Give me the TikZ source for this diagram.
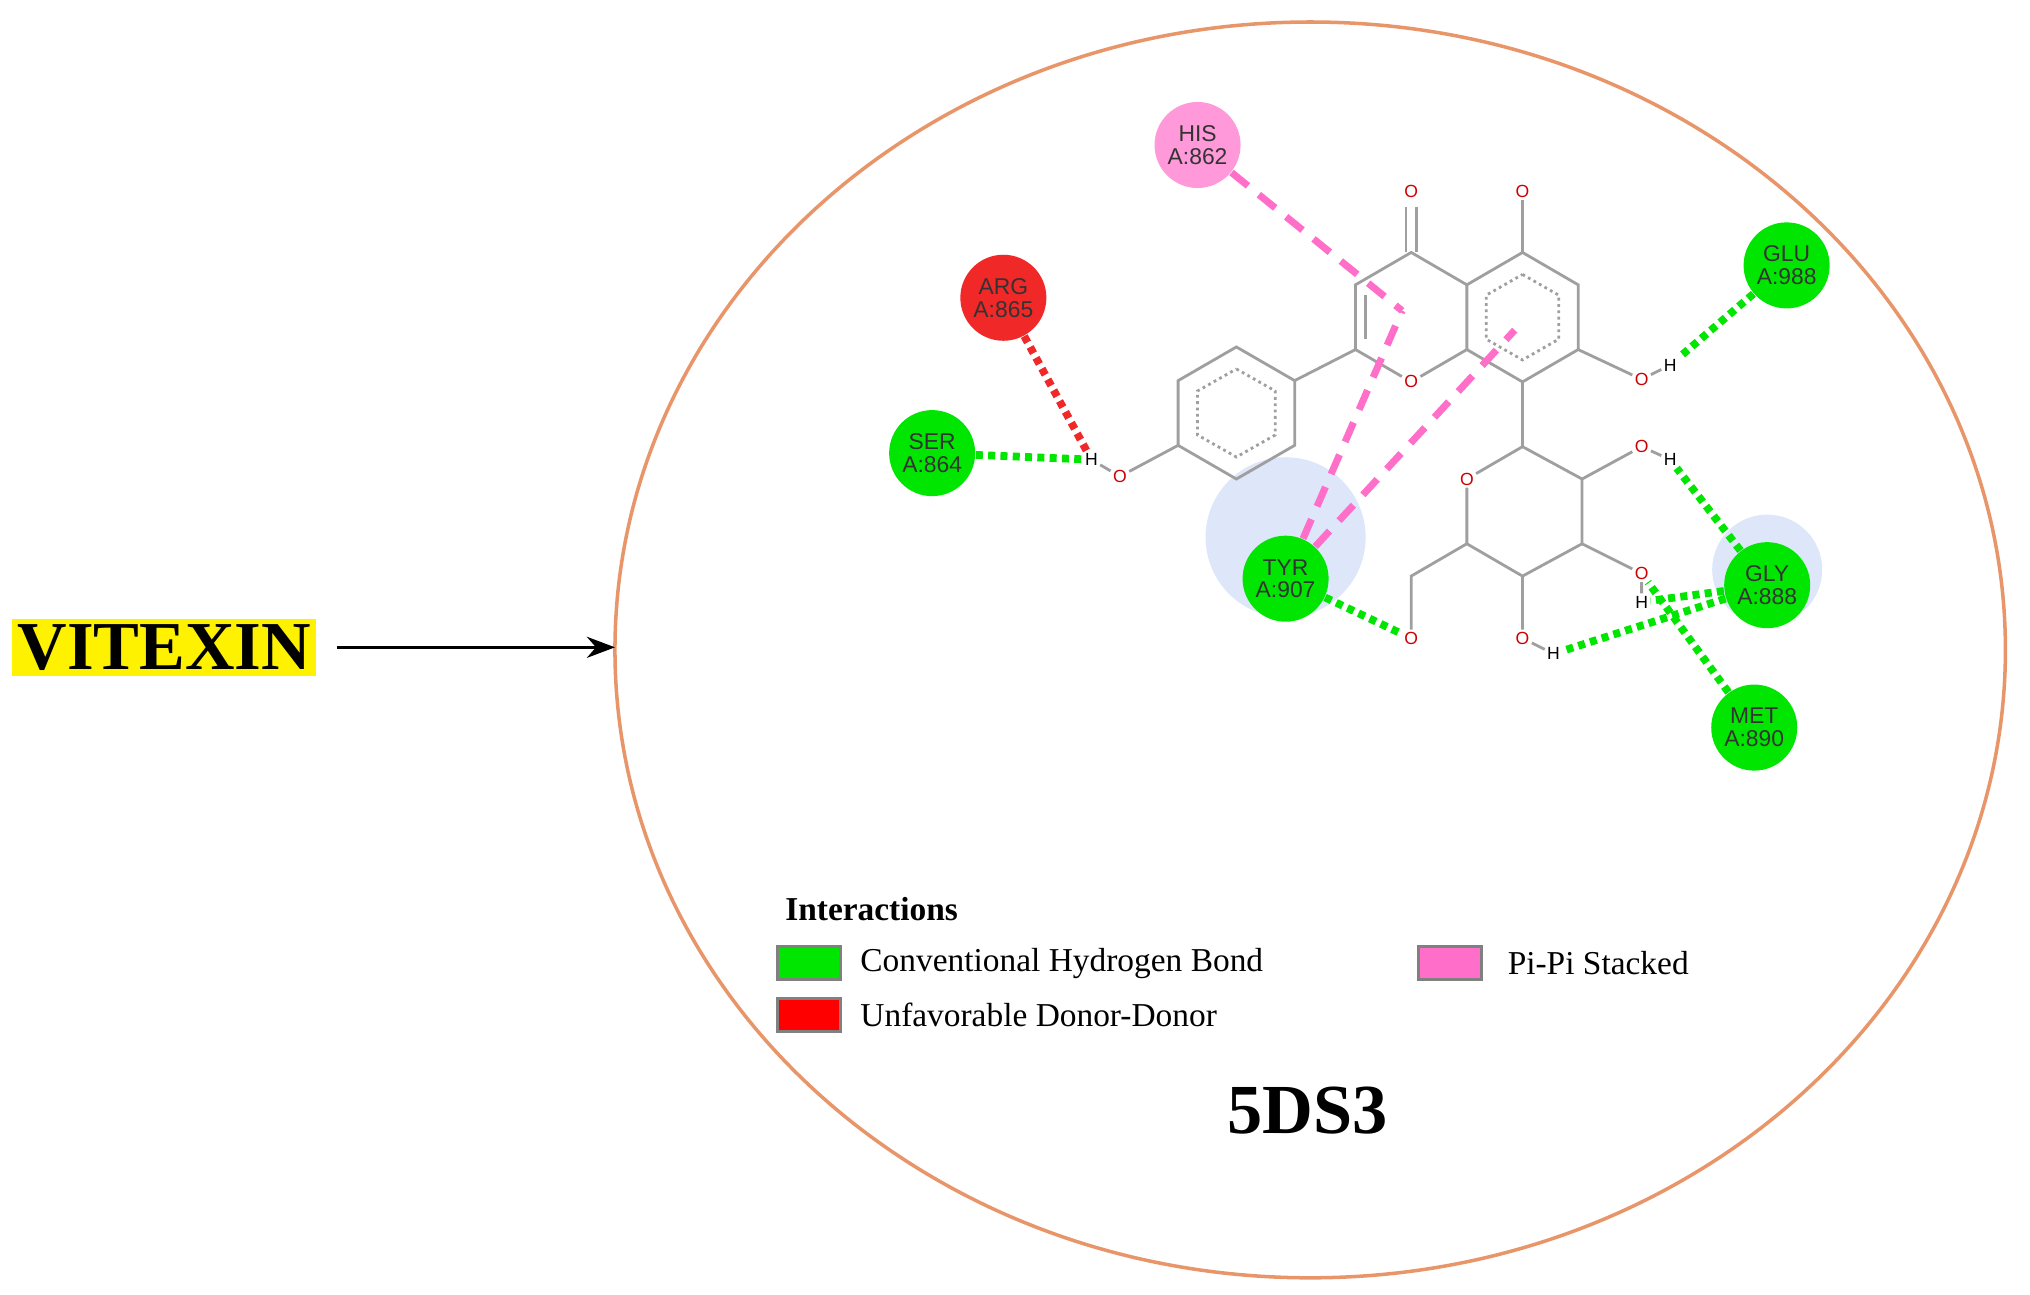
\documentclass[tikz,border=0pt]{standalone}
\usepackage{fontspec}
\setmainfont{Liberation Serif}
\newfontfamily\ressf{Liberation Sans}
\usetikzlibrary{arrows.meta}
\definecolor{hbond}{RGB}{0,230,0}
\definecolor{dd}{RGB}{240,40,40}
\definecolor{pipi}{RGB}{255,110,200}
\definecolor{rim}{RGB}{232,150,105}
\definecolor{halofill}{RGB}{222,230,250}
\begin{document}
\begin{tikzpicture}%
	[x=0.012946cm, y=-0.012946cm,
	bond/.style={draw=gray!75, line width=0.8pt},
	atom/.style={inner sep=0.5pt, text=red!80!black, font=\ressf\fontsize{5}{5}\selectfont},
	hatom/.style={inner sep=0.5pt, text=black, font=\ressf\fontsize{5}{5}\selectfont},
	res/.style={circle, minimum size=0.86cm, inner sep=0pt, align=center, font=\ressf\fontsize{6.5}{6.5}\selectfont, text=black!80},
	halo/.style={circle, fill=halofill, minimum size=1.6cm},
	hb/.style={draw=hbond, line width=2.2pt, dash pattern=on 2pt off 1.5pt},
	ddb/.style={draw=dd, line width=2.2pt, dash pattern=on 2pt off 1.5pt},
	pp/.style={draw=pipi, line width=2pt, dash pattern=on 6pt off 4pt},
	key/.style={draw=gray, line width=1pt, minimum width=0.63cm, minimum height=0.33cm, inner sep=0pt},
	legtext/.style={anchor=west, font=\fontsize{9.5}{9.5}\selectfont}]
\useasboundingbox (0,0) rectangle (1568,1000);
%
%% Frame
%%
\node[fill=yellow, inner sep=1.5pt, font=\bfseries\fontsize{19.5}{19.5}\selectfont] (vitexin) at (127,500) {VITEXIN};
\draw[rim, line width=1pt] (1012,502) ellipse [x radius=537, y radius=485];
\coordinate (rimL) at (475,500);
\draw[-{Stealth[length=8pt]}, line width=0.8pt] (260,500) -- (rimL);
%%
%% Halos
%%
\node[halo] at (993,415) {};
\node[halo, minimum size=1.1cm] at (1365,440) {};
%%
%% Atoms
%%
\coordinate (p1) at (955,268); \coordinate (p2) at (1000,294); \coordinate (p3) at (1000,344);
\coordinate (p4) at (955,370); \coordinate (p5) at (910,344); \coordinate (p6) at (910,294);
\coordinate (c1) at (1090,195); \coordinate (c2) at (1133,220); \coordinate (c3) at (1133,270);
\coordinate (c5) at (1047,270); \coordinate (c6) at (1047,220);
\coordinate (a1) at (1176,195); \coordinate (a2) at (1219,220); \coordinate (a3) at (1219,270);
\coordinate (a4) at (1176,295);
\coordinate (s1) at (1176,345); \coordinate (s2) at (1222,370); \coordinate (s3) at (1222,420);
\coordinate (s4) at (1176,445); \coordinate (s5) at (1133,420); \coordinate (s7) at (1090,445);
\node[atom] (o1) at (865,368) {O};
\node[hatom] (h1) at (843,355) {H};
\node[atom] (o2) at (1090,295) {O};
\node[atom] (o3) at (1090,148) {O};
\node[atom] (o4) at (1176,148) {O};
\node[atom] (o5) at (1268,293) {O};
\node[hatom] (h5) at (1290,282) {H};
\node[atom] (o6) at (1133,370) {O};
\node[atom] (o7) at (1090,493) {O};
\node[atom] (o8) at (1268,345) {O};
\node[hatom] (h8) at (1290,355) {H};
\node[atom] (o9) at (1268,443) {O};
\node[hatom] (h9) at (1268,465) {H};
\node[atom] (o10) at (1176,493) {O};
\node[hatom] (h10) at (1200,505) {H};
%%
%% Bonds
%%
\draw[bond] (p1) -- (p2) -- (p3) -- (p4) -- (p5) -- (p6) -- cycle;
\draw[bond, densely dotted] (955,285) -- (985,302) -- (985,336) -- (955,353) -- (925,336) -- (925,302) -- cycle;
\draw[bond] (p5) -- (o1) -- (h1);
\draw[bond] (p2) -- (c5);
\draw[bond] (c5) -- (c6) -- (c1) -- (c2) -- (c3) -- (o2) -- (c5);
\draw[bond] (1055,228) -- (1055,262);
\draw[bond] (1086,195) -- (1086,160); \draw[bond] (1094,195) -- (1094,160);
\draw[bond] (c2) -- (a1) -- (a2) -- (a3) -- (a4) -- (c3);
\draw[bond, densely dotted] (1176,212) -- (1204,228) -- (1204,262) -- (1176,278) -- (1148,262) -- (1148,228) -- cycle;
\draw[bond] (a1) -- (o4);
\draw[bond] (a3) -- (o5) -- (h5);
\draw[bond] (a4) -- (s1) -- (s2) -- (s3) -- (s4) -- (s5) -- (o6) -- (s1);
\draw[bond] (s5) -- (s7) -- (o7);
\draw[bond] (s2) -- (o8) -- (h8);
\draw[bond] (s3) -- (o9) -- (h9);
\draw[bond] (s4) -- (o10) -- (h10);
%%
%% Residues
%%
\node[res, fill=pipi!70] (his) at (925,112) {HIS\\A:862};
\node[res, fill=dd] (arg) at (775,230) {ARG\\A:865};
\node[res, fill=hbond] (ser) at (720,350) {SER\\A:864};
\node[res, fill=hbond] (tyr) at (993,447) {TYR\\A:907};
\node[res, fill=hbond] (glu) at (1380,205) {GLU\\A:988};
\node[res, fill=hbond] (gly) at (1365,452) {GLY\\A:888};
\node[res, fill=hbond] (met) at (1355,562) {MET\\A:890};
\coordinate (ringC) at (1083,240);
\coordinate (ringA) at (1170,255);
%%
%% Interactions
%%
\draw[ddb] (arg) -- (h1);
\draw[hb] (ser) -- (h1);
\draw[pp] (his) -- (ringC);
\draw[pp] (tyr) -- (ringC);
\draw[pp] (tyr) -- (ringA);
\draw[hb] (tyr) -- (o7);
\draw[hb] (glu) -- (h5);
\draw[hb] (gly) -- (h8);
\draw[hb] (gly) -- (h9);
\draw[hb] (gly) -- (h10);
\draw[hb] (met) -- (o9);
%%
%% Legend
%%
\node[anchor=west, font=\bfseries\fontsize{9.5}{9.5}\selectfont] (leg) at (597,702) {Interactions};
\node[key, fill=hbond] (k1) at (625,744) {};
\node[legtext] at (655,744) {Conventional Hydrogen Bond};
\node[key, fill=red] (k2) at (625,784) {};
\node[legtext] at (655,784) {Unfavorable Donor-Donor};
\node[key, fill=pipi] (k3) at (1120,744) {};
\node[legtext] at (1155,744) {Pi-Pi Stacked};
\node[font=\bfseries\fontsize{20}{20}\selectfont] (pdb) at (1010,858) {5DS3};
\end{tikzpicture}
\end{document}
